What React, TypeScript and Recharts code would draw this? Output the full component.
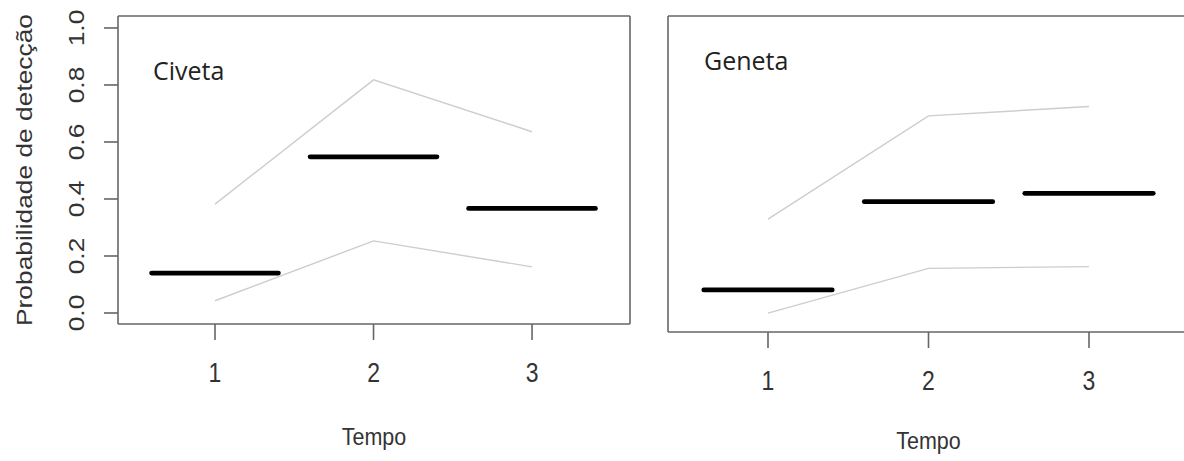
import React from 'react'
import { ComposedChart, Line, XAxis, YAxis, Label } from 'recharts'

// detection probability per time step
const times = [1, 2, 3]
const civetaEst = [0.14, 0.548, 0.367]
const civetaLow = [0.043, 0.253, 0.162]
const civetaHigh = [0.382, 0.818, 0.636]
const genetaEst = [0.1, 0.403, 0.432]
const genetaLow = [0.02, 0.174, 0.18]
const genetaHigh = [0.343, 0.698, 0.73]
const yTicks = [0, 0.2, 0.4, 0.6, 0.8, 1]
const speciesNames = ['Civeta', 'Geneta']
const xTitle = 'Tempo'
const yTitle = 'Probabilidade de detecção'

const BAR_HALF = 0.4
const FONT = '"Liberation Sans", Arial, sans-serif'
const TEXT = '#333'
const FRAME = { stroke: '#666', strokeWidth: 1.6 }
// the source picture is a bit stretched vertically
const STRETCH = 1.2

interface PanelCfg {
  left: number
  width: number
  top: number
  bottom: number
  right: number
  yAxisWidth: number
  xDomain: [number, number]
  yDomain: [number, number]
  titleDy: number
  title: { x: number; y: number }
}

const panels: PanelCfg[] = [
  { left: 0, width: 640, top: 16, bottom: 324, right: 9, yAxisWidth: 118,
    xDomain: [0.388, 3.618], yDomain: [-0.0386, 1.042], titleDy: 113, title: { x: 153, y: 80 } },
  { left: 640, width: 560, top: 16, bottom: 332, right: 10, yAxisWidth: 28,
    xDomain: [0.377, 3.623], yDomain: [-0.0447, 1.0412], titleDy: 109, title: { x: 704, y: 70 } },
]

const XTick = (props: any) => {
  const { x, y, payload } = props
  return (
    <text x={0} y={0} transform={`translate(${x}, ${y + 32}) scale(1, ${STRETCH})`} textAnchor="middle"
      dominantBaseline="central" fontFamily={FONT} fontSize={23} fill={TEXT}>{payload.value}</text>
  )
}

const YTick = (props: any) => {
  const { x, y, payload } = props
  const cx = x - 28
  return (
    <text x={0} y={0} transform={`translate(${cx}, ${y}) rotate(-90) scale(${STRETCH}, 1)`} textAnchor="middle"
      dominantBaseline="central" fontFamily={FONT} fontSize={22} fill={TEXT}>
      {payload.value.toFixed(1)}
    </text>
  )
}

const Panel: React.FC<{ cfg: PanelCfg; est: number[]; low: number[]; high: number[]; showY: boolean }> = ({ cfg, est, low, high, showY }) => {
  const ci = times.map((t, i) => ({ t, low: low[i], high: high[i] }))
  const segs = times.map((t, i) => [
    { t: t - BAR_HALF, v: est[i] },
    { t: t + BAR_HALF, v: est[i] },
  ])
  return (
    <div style={{ position: 'absolute', left: cfg.left, top: 0 }}>
      <ComposedChart width={cfg.width} height={461}
        margin={{ top: cfg.top - 1, right: cfg.right, left: 0, bottom: 0 }}>
        <XAxis xAxisId="b" dataKey="t" type="number" scale="linear" domain={cfg.xDomain}
          allowDataOverflow ticks={times} height={461 - cfg.bottom} tickSize={16} tickMargin={0}
          axisLine={FRAME} tickLine={FRAME} tick={(p: any) => <XTick {...p} />}>
          <Label content={(p: any) => {
            const vb = p.viewBox
            const cx = vb.x + vb.width / 2
            const cy = vb.y + cfg.titleDy
            return (
              <text x={0} y={0} transform={`translate(${cx}, ${cy}) scale(1, 1.12)`} textAnchor="middle"
                dominantBaseline="central" fontFamily={FONT} fontSize={21.5} fill={TEXT}>{xTitle}</text>
            )
          }} />
        </XAxis>
        <XAxis xAxisId="top" orientation="top" type="number" domain={cfg.xDomain} allowDataOverflow
          height={1} tick={false} tickLine={false} axisLine={FRAME} />
        <YAxis yAxisId="l" type="number" domain={cfg.yDomain} allowDataOverflow ticks={yTicks}
          width={cfg.yAxisWidth} tickSize={14} tickMargin={0} axisLine={FRAME} tickLine={FRAME}
          tick={showY ? (p: any) => <YTick {...p} /> : false}>
          {showY && (
            <Label content={(p: any) => {
              const vb = p.viewBox
              const cx = vb.x + 24
              const cy = vb.y + vb.height / 2
              return (
                <text x={cx} y={cy} transform={`rotate(-90, ${cx}, ${cy})`} textAnchor="middle"
                  dominantBaseline="central" fontFamily={FONT} fontSize={22} fill={TEXT}
                  textLength={312} lengthAdjust="spacingAndGlyphs">{yTitle}</text>
              )
            }} />
          )}
        </YAxis>
        <YAxis yAxisId="r" orientation="right" type="number" domain={cfg.yDomain} allowDataOverflow
          width={1} tick={false} tickLine={false} axisLine={FRAME} />
        <Line xAxisId="b" yAxisId="l" data={ci} dataKey="high" type="linear" stroke="#cdcdcd"
          strokeWidth={1.4} dot={false} activeDot={false} isAnimationActive={false} />
        <Line xAxisId="b" yAxisId="l" data={ci} dataKey="low" type="linear" stroke="#cdcdcd"
          strokeWidth={1.4} dot={false} activeDot={false} isAnimationActive={false} />
        {segs.map((s, i) => (
          <Line key={i} xAxisId="b" yAxisId="l" data={s} dataKey="v" type="linear" stroke="#000"
            strokeWidth={4.8} strokeLinecap="round" dot={false} activeDot={false} isAnimationActive={false} />
        ))}
      </ComposedChart>
    </div>
  )
}

const App: React.FC = () => {
  return (
    <div style={{ position: 'absolute', left: 0, top: 0, width: 1184, height: 461, overflow: 'hidden', background: '#fff' }}>
      <Panel cfg={panels[0]} est={civetaEst} low={civetaLow} high={civetaHigh} showY={true} />
      <Panel cfg={panels[1]} est={genetaEst} low={genetaLow} high={genetaHigh} showY={false} />
      <svg width={1184} height={461} style={{ position: 'absolute', left: 0, top: 0, pointerEvents: 'none' }}>
        {panels.map((p, i) => (
          <text key={i} x={p.title.x} y={p.title.y} fontFamily='"Open Sans", sans-serif' fontSize={25} fill="#222">
            {speciesNames[i]}
          </text>
        ))}
      </svg>
    </div>
  )
}

export default App
